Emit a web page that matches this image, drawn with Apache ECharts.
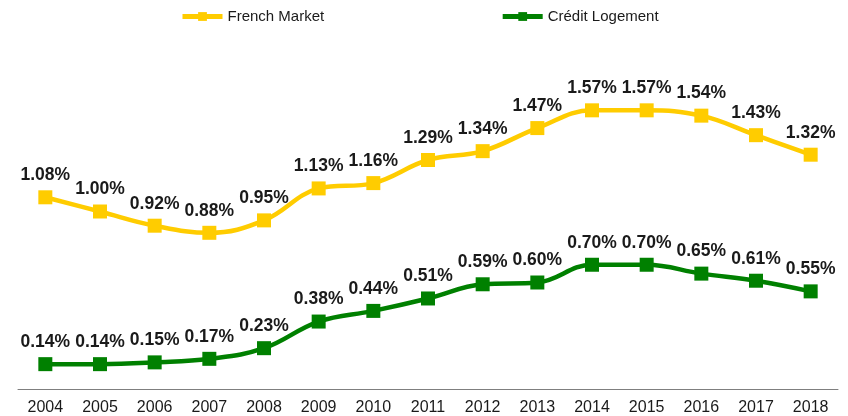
<!DOCTYPE html>
<html><head><meta charset="utf-8">
<script src="https://cdn.jsdelivr.net/npm/echarts@6/dist/echarts.min.js"></script>
<style>html,body{margin:0;padding:0;background:#fff}#c{width:848px;height:416px}</style>
</head><body><div id="c"></div>
<script>
const years = ['2004','2005','2006','2007','2008','2009','2010','2011','2012','2013','2014','2015','2016','2017','2018'];
const frenchMarket = [1.08,1.00,0.92,0.88,0.95,1.13,1.16,1.29,1.34,1.47,1.57,1.57,1.54,1.43,1.32];
const creditLogement = [0.14,0.14,0.15,0.17,0.23,0.38,0.44,0.51,0.59,0.60,0.70,0.70,0.65,0.61,0.55];

const chart = echarts.init(document.getElementById('c'), null, {renderer:'canvas'});
const lbl = {show:true, position:'top', distance:6, fontFamily:'Liberation Sans, Arial, sans-serif', fontWeight:'bold', fontSize:17.5, color:'#1a1a1a', formatter: p => p.value.toFixed(2) + '%'};
chart.setOption({
  animation:false,
  legend:{top:4, left:175, itemWidth:40, itemHeight:11, itemGap:176,
    lineStyle:{width:5},
    textStyle:{fontFamily:'Liberation Sans, Arial, sans-serif', fontSize:15, color:'#1a1a1a'}},
  grid:{left:18, right:10, top:34, bottom:26},
  xAxis:{type:'category', data:years, boundaryGap:true,
    axisLine:{lineStyle:{color:'#7f7f7f', width:1}}, axisTick:{show:false},
    axisLabel:{fontFamily:'Liberation Sans, Arial, sans-serif', fontSize:16, color:'#1a1a1a', margin:11}},
  yAxis:{type:'value', min:0, max:2, show:false, splitLine:{show:false}},
  series:[
    {name:'French Market', type:'line', data:frenchMarket, smooth:0.4, symbol:'rect', symbolSize:14,
     lineStyle:{color:'#FFCC00', width:4.5}, itemStyle:{color:'#FFCC00'}, label:lbl},
    {name:'Crédit Logement', type:'line', data:creditLogement, smooth:0.4, symbol:'rect', symbolSize:14,
     lineStyle:{color:'#008000', width:4.5}, itemStyle:{color:'#008000'}, label:lbl}
  ]
});
</script></body></html>
